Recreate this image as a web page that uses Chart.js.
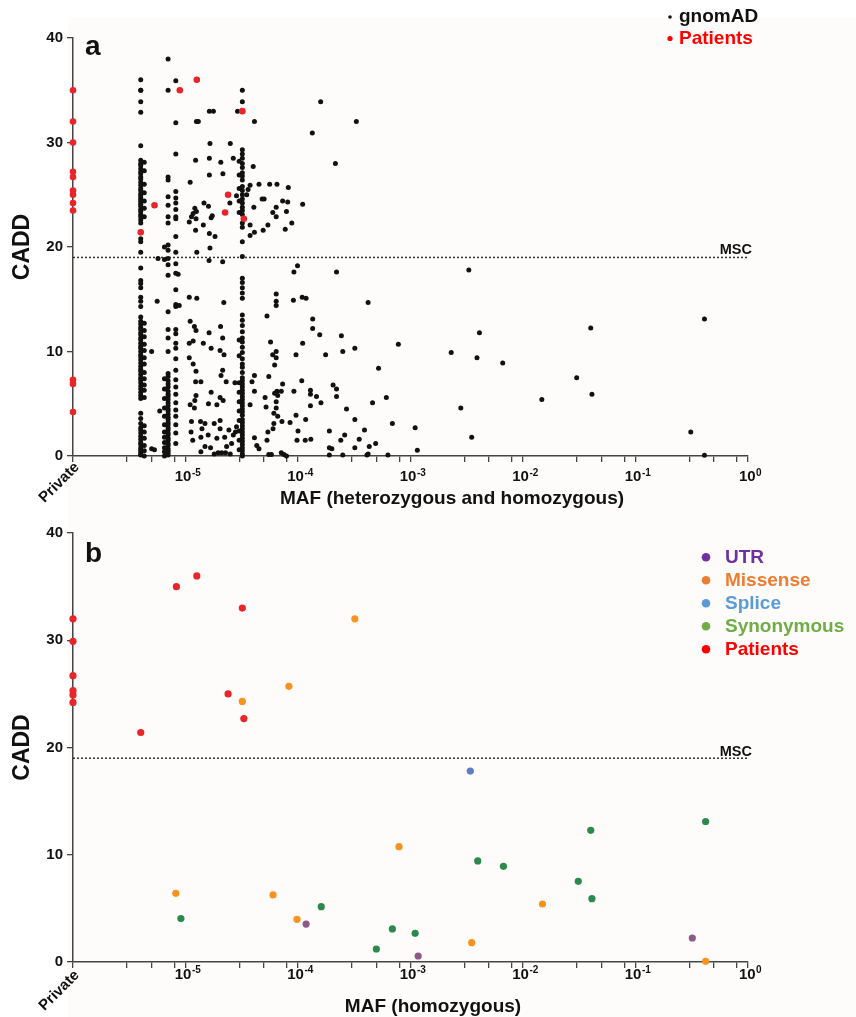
<!DOCTYPE html>
<html>
<head>
<meta charset="utf-8">
<title>CADD vs MAF</title>
<script src="https://cdn.jsdelivr.net/npm/chart.js@4.4.1/dist/chart.umd.min.js"></script>
<style>
  body { margin: 0; background: #fff; }
  canvas { display: block; }
</style>
</head>
<body>
<canvas id="chart-a" width="856" height="515"></canvas>
<canvas id="chart-b" width="856" height="502"></canvas>
<script>
const FONT = '"Liberation Sans", Arial, Helvetica, sans-serif'

// "Private" variants (absent from gnomAD) sit at the left end of the log axis
const privateMaf = 1e-6
const mscCadd = 19

const xTickDecades = [1e-6, 1e-5, 1e-4, 1e-3, 1e-2, 1e-1, 1]
const xMinorSteps = [3, 5, 8]
const yTickStep = 10

// panel a: gnomAD variants stacked at common allele counts (one MAF, many CADD)
const gnomadColumnMaf = [4.0e-6, 4.3e-6, 6.5e-6, 7.0e-6, 8.2e-6, 3.0e-5, 3.2e-5]
const gnomadColumnCadd = [
    [36.0, 35.0, 35.0, 33.9, 32.9, 29.7, 28.3, 28.0, 27.8, 27.5, 27.2, 27.0, 26.7, 26.5, 26.2, 25.9, 25.6, 25.4, 25.1, 24.9,
     24.7, 24.5, 24.3, 24.1, 23.9, 23.6, 23.4, 23.1, 22.9, 22.6, 22.3, 20.8, 20.5, 19.5, 18.0, 16.8, 16.5, 16.1, 15.2, 14.8,
     14.3, 13.3, 12.9, 12.6, 12.3, 12.1, 11.8, 11.6, 11.3, 11.1, 10.8, 10.5, 10.3, 10.0, 9.7, 9.5, 9.2, 8.9, 8.6, 8.3,
     8.1, 7.8, 7.5, 7.3, 7.0, 6.7, 6.4, 6.1, 5.8, 5.5, 4.1, 3.6, 3.1, 2.7, 2.5, 2.2, 1.9, 1.6, 1.3, 1.1, 0.8, 0.6, 0.4, 0.2, 0.1],
    [28.1, 27.3, 26.0, 25.2, 24.4, 23.7, 22.9, 12.7, 12.0, 11.4, 10.7, 10.1, 9.4, 8.8, 8.0, 7.4, 6.8, 6.3, 5.6, 2.9,
     2.3, 1.7, 1.0, 0.5, 0.0],
    [20.0, 18.8, 7.4, 6.4, 5.5, 4.6, 3.8, 3.0, 2.3, 1.8, 1.3, 0.8, 0.4, 0.0],
    [38.0, 35.0, 26.7, 26.4, 24.8, 24.0, 22.9, 22.3, 20.2, 19.7, 18.9, 18.3, 17.3, 13.8, 12.1, 11.3, 10.0, 7.9, 7.6, 7.2,
     6.9, 6.6, 6.2, 5.9, 5.7, 5.4, 5.1, 4.8, 4.5, 4.3, 4.0, 3.7, 3.5, 3.2, 3.0, 2.7, 2.5, 2.2, 2.0, 1.7, 1.5, 1.2, 1.0,
     0.7, 0.5, 0.3, 0.1],
    [35.9, 31.9, 28.9, 25.3, 24.7, 24.2, 23.6, 22.9, 22.7, 21.0, 19.5, 18.4, 17.5, 15.9, 14.5, 14.3, 12.1, 11.7, 10.8, 10.3,
     9.3, 8.2, 7.3, 6.6, 5.9, 5.1, 4.4, 3.8, 3.0, 2.2, 1.2],
    [28.2, 26.9, 25.6, 24.4, 23.3, 11.1, 9.6, 7.0, 6.1, 5.2, 4.3, 3.4, 2.4, 1.5, 0.6],
    [35.0, 33.9, 29.3, 28.9, 28.5, 28.0, 27.6, 27.1, 26.8, 26.4, 25.8, 25.4, 25.0, 24.6, 24.2, 23.8, 23.5, 23.1, 22.3, 21.9,
     20.5, 19.1, 17.0, 16.6, 16.1, 15.6, 15.1, 13.5, 13.0, 12.5, 11.9, 11.3, 10.9, 10.4, 9.9, 9.3, 8.8, 8.5, 8.0, 7.5,
     7.2, 6.9, 6.6, 6.3, 6.0, 5.7, 5.4, 5.1, 4.8, 4.5, 4.2, 3.9, 3.5, 3.2, 2.9, 2.6, 2.3, 2.0, 1.7, 1.4, 1.1, 0.8, 0.5, 0.2, 0.0]
]

// panel a: remaining gnomAD variants as [MAF, CADD]
const gnomadScatter = [
    [1.63e-5, 33.0], [1.77e-5, 33.0], [2.9e-5, 33.0], [1.25e-5, 32.0], [1.3e-5, 32.0], [4.1e-5, 32.0],
    [1.65e-5, 29.9], [2.5e-5, 29.9], [1.23e-5, 28.3], [1.63e-5, 28.5], [2.06e-5, 28.1], [2.66e-5, 28.5],
    [4.0e-5, 27.7], [1.1e-5, 26.2], [1.63e-5, 26.9], [2.15e-5, 27.0], [4.5e-5, 26.0], [5.6e-5, 26.0],
    [6.5e-5, 26.0], [8.2e-5, 25.7], [8.8e-5, 22.3], [7.7e-5, 21.7], [1.59e-4, 33.9], [3.3e-4, 32.0],
    [1.34e-4, 30.9], [2.15e-4, 28.0], [7.3e-5, 24.4], [8.1e-5, 24.3], [1.1e-4, 24.1], [7.9e-5, 23.4],
    [3.75e-5, 25.9], [3.6e-5, 25.5], [3.5e-5, 25.0], [2.84e-5, 24.9], [4.8e-5, 24.6], [5.0e-5, 24.6],
    [1.46e-5, 24.2], [1.6e-5, 23.9], [1.73e-5, 23.0], [1.69e-5, 22.8], [1.21e-5, 23.7], [1.25e-5, 23.4],
    [1.17e-5, 23.2], [1.13e-5, 22.9], [1.24e-5, 22.7], [1.08e-5, 22.4], [1.44e-5, 22.1], [1.23e-5, 21.6],
    [1.63e-5, 21.3], [1.83e-5, 21.0], [1.65e-5, 19.9], [1.26e-5, 19.5], [2.48e-5, 24.2], [3.75e-5, 22.1],
    [4.1e-5, 21.4], [3.75e-5, 21.1], [4.05e-5, 23.8], [4.9e-5, 21.6], [5.4e-5, 22.1], [5.97e-5, 23.3],
    [6.4e-5, 23.8], [6.4e-5, 22.9], [2.14e-5, 18.6], [5.7e-6, 18.9], [1.62e-5, 18.7],
    [5.6e-6, 14.8], [8.8e-6, 14.4], [8.6e-6, 17.4], [1.08e-5, 15.2], [1.26e-5, 15.1], [2.19e-5, 14.7],
    [1.1e-5, 12.9], [1.2e-5, 12.4], [1.24e-5, 12.0], [1.62e-5, 11.8], [2.05e-5, 12.4], [2.14e-5, 11.3],
    [1.08e-5, 10.8], [1.17e-5, 11.0], [1.44e-5, 10.8], [1.69e-5, 10.3], [2.03e-5, 10.1], [2.2e-5, 9.7],
    [5.0e-6, 10.0], [1.08e-5, 9.4], [1.17e-5, 8.8], [1.24e-5, 8.1], [2.14e-5, 8.2], [2.07e-5, 7.7],
    [1.23e-5, 7.1], [1.37e-5, 7.1], [2.3e-5, 7.1], [2.75e-5, 7.0], [1.69e-5, 6.1], [1.24e-5, 5.8],
    [1.21e-5, 5.3], [2.03e-5, 5.6], [2.16e-5, 5.3], [1.9e-5, 4.9], [1.6e-5, 5.0], [1.1e-5, 4.9],
    [1.2e-5, 4.6], [5.9e-6, 4.3], [1.36e-5, 3.3], [1.4e-5, 2.6], [1.37e-5, 1.8], [1.13e-5, 3.3],
    [1.12e-5, 2.3], [1.16e-5, 1.5], [1.49e-5, 3.1], [1.59e-5, 2.0], [1.8e-5, 3.1], [2.03e-5, 3.4],
    [2.03e-5, 2.6], [1.9e-5, 1.7], [2.23e-5, 1.8], [2.43e-5, 2.5], [2.66e-5, 2.0], [2.57e-5, 1.2],
    [2.32e-5, 0.9], [2.84e-5, 2.8], [2.78e-5, 2.3], [1.49e-5, 0.9], [1.67e-5, 0.8], [1.37e-5, 0.4],
    [1.8e-5, 0.2], [1.95e-5, 0.3], [2.1e-5, 0.3], [2.27e-5, 0.3], [2.5e-5, 0.2], [5.0e-6, 0.7],
    [5.3e-6, 0.6], [4.1e-5, 7.7], [3.9e-5, 7.1], [4.1e-5, 6.2], [3.75e-5, 4.9], [4.1e-5, 1.75],
    [4.3e-5, 1.0], [4.5e-5, 0.7], [5.3e-5, 13.4], [5.7e-5, 10.9], [5.5e-5, 7.6], [5.1e-5, 5.6],
    [5.2e-5, 4.7], [5.4e-5, 2.3], [5.3e-5, 1.5], [6.4e-5, 15.5], [6.4e-5, 14.8], [6.4e-5, 14.4],
    [6.4e-5, 10.0], [6.4e-5, 9.4], [6.2e-5, 8.7], [5.96e-5, 9.7], [6.5e-5, 6.2], [6.2e-5, 6.0],
    [6.6e-5, 5.8], [6.4e-5, 5.2], [6.4e-5, 4.6], [6.1e-5, 4.1], [6.6e-5, 3.8], [6.1e-5, 3.1],
    [6.0e-5, 2.6], [5.5e-5, 0.15], [5.8e-5, 0.15],
    [9.9e-5, 18.2], [9.2e-5, 17.6], [2.2e-4, 17.6], [3.3e-3, 17.8], [9.1e-5, 14.9], [1.09e-4, 15.2],
    [1.18e-4, 15.1], [4.2e-4, 14.7], [1.35e-4, 13.1], [1.35e-4, 12.2], [1.56e-4, 11.6], [2.43e-4, 11.5],
    [4.1e-3, 11.8], [1.1e-4, 10.8], [7.8e-4, 10.7], [3.2e-4, 10.3], [2.5e-4, 10.0], [9.6e-5, 9.7],
    [1.76e-4, 9.7], [2.3e-3, 9.9], [3.9e-3, 9.4], [6.6e-3, 8.9], [5.2e-4, 8.4], [7.3e-5, 6.9],
    [7.1e-5, 6.2], [1.08e-4, 7.2], [2.05e-4, 6.8], [2.2e-4, 6.4], [9.2e-5, 6.2], [1.29e-4, 6.3],
    [1.29e-4, 5.9], [1.46e-4, 5.7], [1.6e-4, 5.1], [2.2e-4, 5.7], [4.6e-4, 5.1], [6.1e-4, 5.6],
    [1.29e-4, 4.8], [2.7e-4, 4.5], [2.8e-3, 4.6], [1.47e-2, 5.4], [3.0e-2, 7.5], [9.6e-5, 3.9],
    [7.2e-5, 3.3], [8.5e-5, 3.2], [1.17e-4, 3.5], [3.2e-4, 3.5], [6.9e-4, 3.1], [1.1e-3, 2.7],
    [1.0e-4, 2.4], [1.9e-4, 2.4], [3.9e-4, 2.5], [2.6e-4, 2.0], [3.5e-4, 1.6], [2.4e-4, 1.5],
    [9.8e-5, 1.5], [1.16e-4, 1.5], [1.3e-4, 1.6], [4.9e-4, 1.2], [3.5e-3, 1.8], [1.9e-4, 0.8],
    [2.0e-4, 0.7], [4.3e-4, 0.9], [3.2e-4, 0.8], [1.15e-3, 0.55], [1.9e-4, 0.1], [2.5e-4, 0.1],
    [4.1e-4, 0.1], [4.2e-4, 0.2], [6.3e-4, 0.1], [7.1e-5, 0.3], [7.5e-5, 0.15], [7.9e-5, 0.0],
    [4.0e-2, 12.25], [0.41, 13.1], [4.1e-2, 5.9], [0.31, 2.3], [0.41, 0.07]
]

// panel a: patient variants
const patientPrivateA = [35.0, 32.0, 30.0, 27.2, 26.7, 25.4, 25.0, 24.2, 23.5, 7.3, 6.9, 4.2]
const patientScatterA = [[1.26e-5, 36.0], [8.9e-6, 35.0], [3.2e-5, 33.0], [5.3e-6, 24.0], [4.0e-6, 21.4],
    [2.39e-5, 25.0], [2.25e-5, 23.3], [3.3e-5, 22.7]]

// panel b: homozygous variants by class, [MAF, CADD]
const utrVariants = [[1.18e-4, 3.54], [1.17e-3, 0.56], [0.32, 2.24]]
const missenseVariants = [[8.3e-5, 25.7], [3.2e-5, 24.3], [3.2e-4, 32.0], [7.9e-4, 10.75], [8.2e-6, 6.4],
    [6.0e-5, 6.25], [9.8e-5, 3.98], [3.5e-3, 1.8], [1.49e-2, 5.41], [0.42, 0.07]]
const spliceVariants = [[3.4e-3, 17.8]]
const synonymousVariants = [[9.1e-6, 4.05], [1.61e-4, 5.16], [4.97e-4, 1.21], [6.9e-4, 3.08], [1.1e-3, 2.67],
    [3.96e-3, 9.42], [6.7e-3, 8.92], [3.1e-2, 7.52], [4.0e-2, 12.28], [4.1e-2, 5.9], [0.42, 13.1]]
const patientPrivateB = [32.0, 29.9, 26.7, 25.3, 24.9, 24.2]
const patientScatterB = [[8.3e-6, 35.0], [1.26e-5, 36.0], [3.2e-5, 33.0], [2.39e-5, 25.0], [3.3e-5, 22.7], [4.0e-6, 21.4]]

const xTickValues = xTickDecades.flatMap(d => d < 1 ? [d, ...xMinorSteps.map(s => s * d)] : [d])
const toPoints = pairs => pairs.map(([x, y]) => ({x, y}))
const privatePoints = values => values.map(y => ({x: privateMaf, y}))

const panelDecor = {
    id: 'panelDecor',
    beforeDraw(chart, args, opts) {
        const {ctx, width, height} = chart
        ctx.save()
        ctx.fillStyle = '#fdfcfa'
        ctx.fillRect(opts.bgLeft, opts.bgTop, width - opts.bgLeft, height - opts.bgTop)
        ctx.restore()
    },
    afterDraw(chart, args, opts) {
        const {ctx, chartArea, scales: {x, y}} = chart
        ctx.save()
        ctx.fillStyle = '#111'
        ctx.textAlign = 'left'
        ctx.textBaseline = 'alphabetic'
        ctx.font = `bold 28px ${FONT}`
        ctx.fillText(opts.letter, chartArea.left + 12, opts.letterY)

        // decade labels as 10 with a raised exponent, "Private" at the low end
        for (const decade of xTickDecades) {
            const px = x.getPixelForValue(decade)
            if (decade === privateMaf) {
                ctx.save()
                ctx.translate(px + 4, chartArea.bottom + opts.privateDy)
                ctx.rotate(-Math.PI / 4)
                ctx.textAlign = 'right'
                ctx.textBaseline = 'middle'
                ctx.font = `bold 15px ${FONT}`
                ctx.fillText('Private', 0, 0)
                ctx.restore()
                continue
            }
            const exp = Math.round(Math.log10(decade))
            const sup = exp === 0 ? '0' : `-${-exp}`
            ctx.font = `bold 15px ${FONT}`
            const baseW = ctx.measureText('10').width
            ctx.font = `bold 10px ${FONT}`
            const supW = ctx.measureText(sup).width
            const left = px - (baseW + supW) / 2 + 2
            const baseline = chartArea.bottom + opts.tickBaseline
            ctx.font = `bold 15px ${FONT}`
            ctx.fillText('10', left, baseline)
            ctx.font = `bold 10px ${FONT}`
            ctx.fillText(sup, left + baseW + 0.5, baseline - 5.5)
        }

        ctx.textAlign = 'center'
        ctx.font = `bold 19px ${FONT}`
        ctx.fillText(opts.xTitle, opts.xTitleX, opts.xTitleY)

        ctx.textAlign = 'right'
        ctx.font = `bold 14.5px ${FONT}`
        ctx.fillText('MSC', chartArea.right + 4, y.getPixelForValue(mscCadd) - opts.mscGap)

        ctx.textAlign = 'left'
        ctx.textBaseline = 'middle'
        ctx.font = `bold 19px ${FONT}`
        chart.data.datasets.filter(ds => ds.legendColor).forEach((ds, i) => {
            const ly = opts.legendY + i * opts.legendStep
            ctx.fillStyle = ds.legendColor
            ctx.beginPath()
            ctx.arc(opts.legendX, ly, ds.legendDot, 0, Math.PI * 2)
            ctx.fill()
            ctx.fillText(ds.label, opts.legendX + opts.legendGap, ly)
        })
        ctx.restore()
    }
}

const mscLine = () => ({
    type: 'line',
    data: [{x: privateMaf, y: mscCadd}, {x: 1, y: mscCadd}],
    borderColor: '#333',
    borderWidth: 1.5,
    borderDash: [2, 2],
    pointRadius: 0,
    order: 5
})

const dots = (label, data, color, radius, legendColor, legendDot, order) => ({
    label, data, legendColor, legendDot, order,
    pointRadius: radius,
    pointBackgroundColor: color,
    pointBorderWidth: 0,
    pointHoverRadius: radius,
    clip: false
})

const buildOptions = panel => ({
    responsive: false,
    animation: false,
    layout: { padding: { top: panel.top, right: 108, left: 0, bottom: 0 } },
    plugins: {
        legend: { display: false },
        tooltip: { enabled: false },
        panelDecor: panel.decor
    },
    scales: {
        x: {
            type: 'logarithmic',
            min: privateMaf,
            max: 1,
            afterBuildTicks: scale => { scale.ticks = xTickValues.map(value => ({value})) },
            afterFit: scale => { scale.height = panel.xHeight },
            ticks: { display: false },
            grid: { drawOnChartArea: false, tickLength: 6, color: '#444', lineWidth: 1.3 },
            border: { color: '#444', width: 1.5 }
        },
        y: {
            min: 0,
            max: 40,
            afterFit: scale => { scale.width = 73 },
            ticks: { stepSize: yTickStep, color: '#111', font: { size: 15, weight: 'bold' }, padding: 4 },
            grid: { drawOnChartArea: false, tickLength: 6, color: '#444', lineWidth: 1.3 },
            border: { color: '#444', width: 1.5 },
            title: { display: true, text: 'CADD', color: '#111', font: { size: 23, weight: 'bold' }, padding: { top: 9, bottom: 0 } }
        }
    }
})

const initCharts = () => {
    Chart.defaults.font.family = FONT
    Chart.register(panelDecor)

    const gnomadPoints = gnomadColumnMaf
        .flatMap((maf, i) => gnomadColumnCadd[i].map(y => ({x: maf, y})))
        .concat(toPoints(gnomadScatter))

    new Chart(document.getElementById('chart-a').getContext('2d'), {
        type: 'scatter',
        data: {
            datasets: [
                dots('gnomAD', gnomadPoints, '#111', 2.5, '#111', 1.8, 2),
                dots('Patients', privatePoints(patientPrivateA).concat(toPoints(patientScatterA)), '#e8262a', 3.3, '#ff0000', 2.6, 1),
                mscLine()
            ]
        },
        options: buildOptions({
            top: 38,
            xHeight: 59,
            decor: {
                letter: 'a', letterY: 55, privateDy: 9, tickBaseline: 25,
                xTitle: 'MAF (heterozygous and homozygous)', xTitleX: 452, xTitleY: 504, mscGap: 3,
                legendX: 670, legendY: 17, legendStep: 21.5, legendGap: 9, bgLeft: 68, bgTop: 17
            }
        })
    })

    new Chart(document.getElementById('chart-b').getContext('2d'), {
        type: 'scatter',
        data: {
            datasets: [
                dots('UTR', toPoints(utrVariants), '#8c5a86', 3.6, '#7030a0', 4.3, 2),
                dots('Missense', toPoints(missenseVariants), '#f7931e', 3.6, '#ed7d31', 4.3, 2),
                dots('Splice', toPoints(spliceVariants), '#5b7ec5', 3.6, '#5b9bd5', 4.3, 2),
                dots('Synonymous', toPoints(synonymousVariants), '#2b8a4b', 3.6, '#70ad47', 4.3, 2),
                dots('Patients', privatePoints(patientPrivateB).concat(toPoints(patientScatterB)), '#e8262a', 3.6, '#ff0000', 4.3, 1),
                mscLine()
            ]
        },
        options: buildOptions({
            top: 18,
            xHeight: 55,
            decor: {
                letter: 'b', letterY: 46.7, privateDy: 11, tickBaseline: 16.5,
                xTitle: 'MAF (homozygous)', xTitleX: 433, xTitleY: 497, mscGap: 2,
                legendX: 706, legendY: 42.3, legendStep: 23, legendGap: 19, bgLeft: 68, bgTop: 0
            }
        })
    })
}

document.addEventListener('DOMContentLoaded', initCharts, false)
</script>
</body>
</html>
